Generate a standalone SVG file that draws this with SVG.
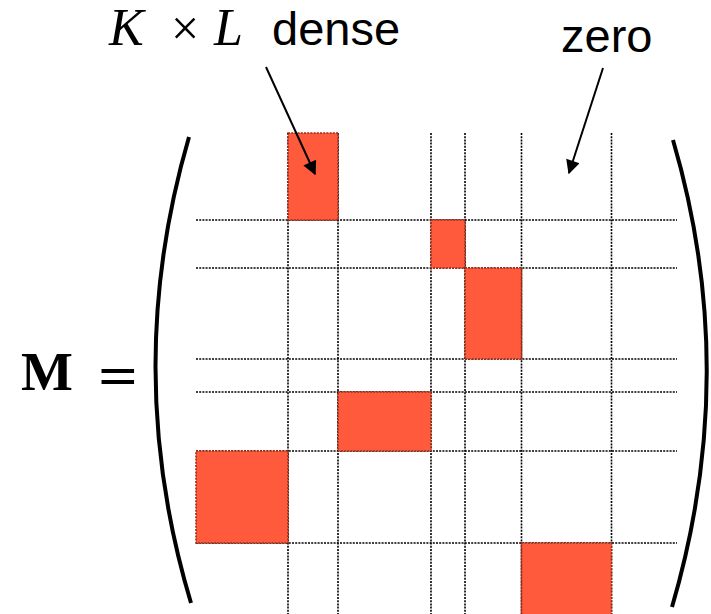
<svg xmlns="http://www.w3.org/2000/svg" width="711" height="614" viewBox="0 0 711 614">
<style>
.grid line{stroke:#000;stroke-width:1.6;stroke-dasharray:2 1.2;fill:none}
.blk rect{fill:#FF5A3C;stroke:#a02a14;stroke-width:1.6;stroke-dasharray:2 1.2}
.paren{fill:none;stroke:#000;stroke-width:4;stroke-linecap:butt}
.arrow{stroke:#000;stroke-width:2;fill:none}
.sans{font-family:"Liberation Sans",Arial,sans-serif;font-size:47px;fill:#000}
.math{font-family:"Liberation Serif","Times New Roman",serif;fill:#000}
</style>
<defs>
<marker id="ah" viewBox="0 0 10 10" refX="9" refY="5" markerWidth="8" markerHeight="7" markerUnits="strokeWidth" orient="auto">
<path d="M0,0 L10,5 L0,10 Z" fill="#000"/>
</marker>
</defs>
<rect width="711" height="614" fill="#fff"/>
<g id="grid" class="grid">
<line x1="196" y1="220" x2="677" y2="220"/>
<line x1="196" y1="268" x2="677" y2="268"/>
<line x1="196" y1="359" x2="677" y2="359"/>
<line x1="196" y1="392" x2="677" y2="392"/>
<line x1="196" y1="451" x2="677" y2="451"/>
<line x1="196" y1="543" x2="677" y2="543"/>
<line x1="288" y1="133" x2="288" y2="614"/>
<line x1="338" y1="133" x2="338" y2="614"/>
<line x1="431" y1="133" x2="431" y2="614"/>
<line x1="465" y1="133" x2="465" y2="614"/>
<line x1="521.5" y1="133" x2="521.5" y2="614"/>
<line x1="611.5" y1="133" x2="611.5" y2="614"/>
</g>
<g class="blk">
<g id="block1"><rect x="288" y="133" width="50" height="87"/></g>
<g id="block2"><rect x="431" y="220" width="34" height="48"/></g>
<g id="block3"><rect x="465" y="268" width="56.5" height="91"/></g>
<g id="block4"><rect x="338" y="392" width="93" height="59"/></g>
<g id="block5"><rect x="196" y="451" width="92" height="92"/></g>
<g id="block6"><rect x="521.5" y="543" width="90" height="75"/></g>
</g>
<g id="parens">
<path class="paren" d="M189,137 Q121,370 191,603"/>
<path class="paren" d="M673,140 Q741,372 672,607"/>
</g>
<g id="label-dense">
<text class="math" x="109" y="45" font-size="52" font-style="italic">K</text>
<text class="math" x="171" y="45" font-size="50">×</text>
<text class="math" x="214" y="45" font-size="52" font-style="italic">L</text>
<text class="sans" x="272" y="45">dense</text>
</g>
<g id="label-zero">
<text class="sans" x="561" y="52">zero</text>
</g>
<g id="label-M">
<text class="math" x="21" y="390" font-size="55" font-weight="bold">M</text>
<text x="96" y="393" font-family="'DejaVu Serif',serif" font-size="52" fill="#000">=</text>
</g>
<g id="connectors">
<line class="arrow" x1="266" y1="67" x2="315" y2="174" marker-end="url(#ah)"/>
<line class="arrow" x1="603" y1="68" x2="569" y2="173" marker-end="url(#ah)"/>
</g>
</svg>
